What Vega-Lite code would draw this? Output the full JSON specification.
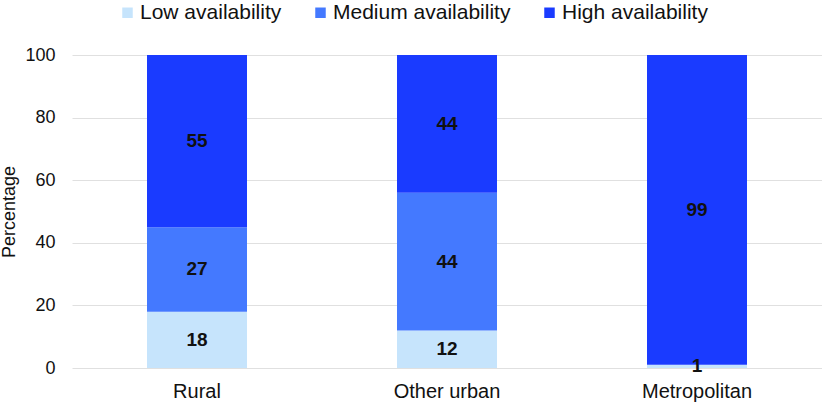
{
  "$schema": "https://vega.github.io/schema/vega-lite/v6.json",
  "width": 750,
  "height": 313,
  "autosize": "none",
  "padding": {"left": 72, "top": 55, "right": 0, "bottom": 38},
  "config": {
    "font": "Liberation Sans",
    "view": {"stroke": null},
    "axis": {"domain": false, "ticks": false, "gridColor": "#e0e0e0", "labelColor": "#111", "titleColor": "#111"}
  },
  "data": {
    "values": [
      {"area": "Rural", "level": "Low availability", "order": 1, "value": 18},
      {"area": "Rural", "level": "Medium availability", "order": 2, "value": 27},
      {"area": "Rural", "level": "High availability", "order": 3, "value": 55},
      {"area": "Other urban", "level": "Low availability", "order": 1, "value": 12},
      {"area": "Other urban", "level": "Medium availability", "order": 2, "value": 44},
      {"area": "Other urban", "level": "High availability", "order": 3, "value": 44},
      {"area": "Metropolitan", "level": "Low availability", "order": 1, "value": 1},
      {"area": "Metropolitan", "level": "High availability", "order": 3, "value": 99}
    ]
  },
  "encoding": {
    "x": {
      "field": "area", "type": "nominal", "sort": ["Rural", "Other urban", "Metropolitan"],
      "scale": {"paddingInner": 0.6, "paddingOuter": 0.3},
      "axis": {"title": null, "labelAngle": 0, "labelFontSize": 20, "labelPadding": 13, "grid": false}
    },
    "y": {
      "field": "value", "type": "quantitative", "stack": "zero",
      "scale": {"domain": [0, 100]},
      "axis": {"title": "Percentage", "titleFontSize": 18, "titleFontWeight": "normal", "titlePadding": 6, "labelFontSize": 18, "labelPadding": 17, "labelOverlap": false, "values": [0, 20, 40, 60, 80, 100]}
    },
    "order": {"field": "order", "type": "quantitative"}
  },
  "layer": [
    {
      "mark": {"type": "bar"},
      "encoding": {
        "color": {
          "field": "level", "type": "nominal",
          "sort": ["Low availability", "Medium availability", "High availability"],
          "scale": {"domain": ["Low availability", "Medium availability", "High availability"], "range": ["#c6e4fc", "#4479ff", "#1a3bff"]},
          "legend": {
            "title": null, "orient": "none", "legendX": 45, "legendY": -53, "direction": "horizontal",
            "labelFontSize": 21, "labelColor": "#111", "labelLimit": 0, "symbolType": "square", "symbolSize": 110,
            "symbolStrokeWidth": 0, "columnPadding": 28, "labelOffset": 2, "padding": 0
          }
        }
      }
    },
    {
      "mark": {"type": "text", "fontWeight": "bold", "fontSize": 19, "color": "#111"},
      "encoding": {
        "y": {"field": "value", "type": "quantitative", "stack": "zero", "bandPosition": 0.5},
        "text": {"field": "value", "type": "quantitative"}
      }
    }
  ]
}
